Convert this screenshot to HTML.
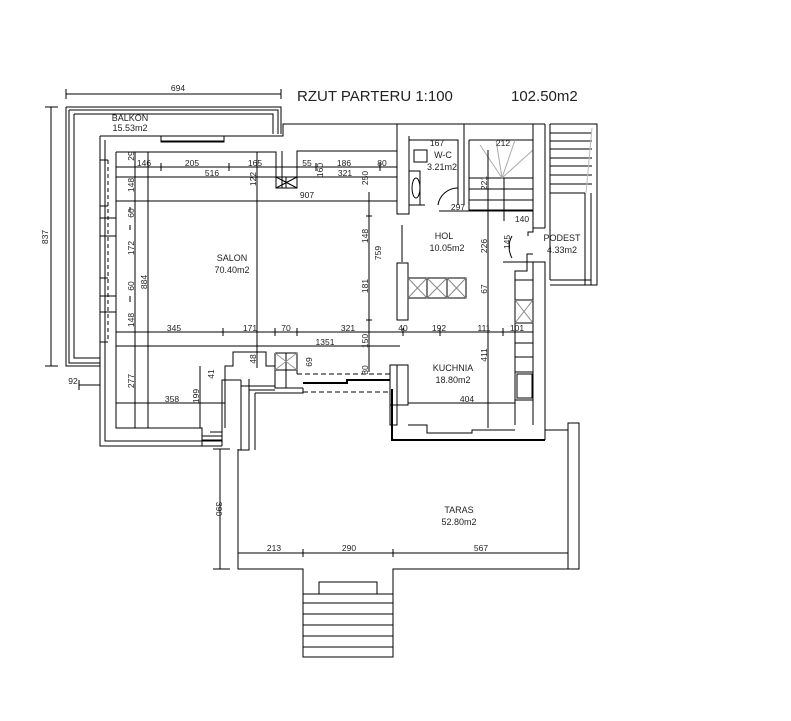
<!DOCTYPE html>
<html><head><meta charset="utf-8"><style>
html,body{margin:0;padding:0;background:#fff;}
svg{display:block;}
text{font-family:"Liberation Sans",sans-serif;fill:#222;}
.d{font-size:8.5px;}
.r{font-size:9px;}
</style></head><body>
<svg width="791" height="721" viewBox="0 0 791 721" xmlns="http://www.w3.org/2000/svg">
<g stroke="#000" stroke-width="1" fill="none">
<!-- top dim 694 -->
<line x1="66" y1="94" x2="281" y2="94"/>
<line x1="66" y1="89" x2="66" y2="99"/><line x1="281" y1="89" x2="281" y2="99"/>
<!-- left dim 837 -->
<line x1="51" y1="107" x2="51" y2="366"/>
<line x1="45" y1="107" x2="58" y2="107"/><line x1="45" y1="366" x2="58" y2="366"/>
<!-- balcony -->
<path d="M66 107 H281 V134 M66 107 V366 H100"/>
<path d="M69 110 H278 V134 M69 110 V363 H100"/>
<path d="M74 114 H273 V134 M74 114 V358 H100"/>
<!-- building outer left wall -->
<path d="M100 136 H283 V124 H545"/>
<path d="M100 136 V446 H222"/>
<path d="M105 140 V441 H222"/>
<path d="M100 160 H108 M100 206 H108 M100 218 H116 M100 236 H116 M100 278 H108 M100 296 H116 M100 312 H116 M100 342 H108"/>
<line x1="108" y1="160" x2="108" y2="342" stroke-dasharray="4,3"/>
<!-- window top -->
<path d="M161 136 V142 H224 V136 M161 141 H224"/>
<!-- salon inner -->
<path d="M116 152 H276 V188 H297 V151 H397 V214 H409 V136"/>
<path d="M116 152 V428 H202 V440 H222"/>
<path d="M276 177 H297 M276 188 L297 177 M276 177 L297 188"/>
<path d="M286 177 V188"/>
<!-- bottom-left area -->
<path d="M202 428 V446 M210 432 H222 M202 436 H222"/>
<path d="M225 428 V366 H233 V352 H266 V366 H275"/>
<path d="M275 353 H297 V374 M275 353 V388 H303 M275 370 H297 M286 353 V388"/>
<path d="M275 353 L297 370 M297 353 L275 370" stroke="#999"/>
<path d="M222 446 V380 H241 M241 380 V450 M249 379 V450 H238 M255 393 H303 V388 M255 393 V450"/>
<path d="M241 386 H275 M249 390 H275"/>
<line x1="297" y1="374" x2="390" y2="374" stroke-dasharray="5,3"/>
<path d="M303 383 H347 V380 H390" stroke-width="2"/>
<line x1="303" y1="392" x2="390" y2="392" stroke-dasharray="5,3"/>
<path d="M390 374 V365 H397 V425 H390 Z"/>
<path d="M392 389 V440 H545" stroke-width="2"/>
<!-- middle area / hol -->
<path d="M397 151 V124 M409 140 H458 V205 M409 140 V205 H425"/>
<path d="M414 150 H427 V162 H414 Z M409 171 H420 V205"/>
<ellipse cx="416" cy="188" rx="4" ry="10"/>
<path d="M458 188 A20 20 0 0 0 438 205"/>
<path d="M464 124 V205 M469 140 H533 M469 140 V210 H504"/>
<path d="M469 178 H533 M469 189 H533 M469 200 H533 M469 210 H533 M504 178 V221"/>
<path d="M502 178 L480 145 M502 178 L496 140 M502 178 L515 140 M502 178 L533 150" stroke="#aaa"/>
<path d="M533 124 V228 H545 M545 124 V228"/>
<path d="M533 228 V232 H528 V236"/>
<!-- podest -->
<path d="M550 124 H597 V130"/>
<path d="M550 133 H592 M550 141 H592 M550 149 H592 M550 158 H592 M550 166 H592 M550 175 H592 M550 184 H592 M550 193 H585"/>
<line x1="592" y1="128" x2="586" y2="193" stroke="#bbb"/>
<path d="M550 124 V280 M585 193 V280 M591 193 V280 M550 280 H591 M550 285 H597 V124 M585 280 V285 M591 280 V285"/>
<path d="M512 236 A22 22 0 0 0 512 258"/>
<!-- hol block & cabinets -->
<path d="M397 263 H408 V320 H397 Z"/>
<path d="M408 278 H466 V298 H408 M427 278 V298 M447 278 V298"/>
<path d="M408 278 L427 298 M427 278 L408 298 M427 278 L447 298 M447 278 L427 298 M447 278 L466 298 M466 278 L447 298" stroke="#888"/>
<path d="M503 262 H527 V271 H515 V425 M527 262 V254 H533 M533 262 V425 M527 262 H545 V440"/>
<path d="M515 280 H533 M515 300 H533 M515 323 H533 M515 343 H533 M515 357 H533 M515 372 H533 M515 400 H533"/>
<path d="M515 300 L533 323 M533 300 L515 323" stroke="#888"/>
<rect x="517" y="374" width="15" height="24"/>
<!-- kitchen -->
<path d="M397 365 H408 V405 H390"/>
<path d="M408 403 H515"/>
<path d="M408 425 H427 V433 H472 V430 H515"/>
<!-- terrace -->
<path d="M238 449 V569 H303 V657 H393 V569 H579 V423 H568 V433 M568 433 V569"/>
<path d="M545 430 H568"/>
<path d="M303 594 H393 M303 603 H393 M303 614 H393 M303 625 H393 M303 636 H393 M303 647 H393"/>
<path d="M303 594 H319 V582 H377 V594"/>
<!-- dims -->
<line x1="220" y1="449" x2="220" y2="569"/>
<line x1="213" y1="449" x2="230" y2="449"/><line x1="213" y1="569" x2="230" y2="569"/>
<line x1="238" y1="553" x2="568" y2="553"/>
<path d="M303 549 V557 M393 549 V557"/>
<line x1="116" y1="167" x2="397" y2="167"/>
<path d="M161 163 V171 M229 163 V171 M297 163 V171 M316 163 V171 M380 163 V171"/>
<line x1="116" y1="177" x2="397" y2="177"/>
<line x1="116" y1="201" x2="397" y2="201"/>
<line x1="116" y1="332" x2="533" y2="332"/>
<path d="M223 328 V336 M275 328 V336 M297 328 V336 M403 328 V336 M440 328 V336 M503 328 V336"/>
<line x1="116" y1="346" x2="400" y2="346"/>
<line x1="116" y1="403" x2="225" y2="403"/>
<line x1="135" y1="152" x2="135" y2="428"/>
<line x1="148" y1="152" x2="148" y2="428"/>
<path d="M130 207 V212 M130 225 V230 M130 296 V302"/>
<line x1="257" y1="152" x2="257" y2="368"/>
<line x1="369" y1="192" x2="369" y2="372"/>
<path d="M366 216 H372 M366 320 H372"/>
<line x1="488" y1="150" x2="488" y2="428"/>
<line x1="200" y1="366" x2="200" y2="428"/>
<line x1="282" y1="151" x2="282" y2="188"/>
<line x1="79" y1="385" x2="100" y2="385"/><line x1="79" y1="380" x2="79" y2="390"/>
<line x1="439" y1="211" x2="533" y2="211"/>
<line x1="402" y1="225" x2="402" y2="262"/>
</g>
<text x="297" y="101" style="font-size:15px">RZUT PARTERU 1:100</text>
<text x="511" y="101" style="font-size:15px">102.50m2</text>
<text x="178" y="91" class="d" text-anchor="middle">694</text>
<g class="r" text-anchor="middle">
<text x="130" y="121">BALKON</text><text x="130" y="131">15.53m2</text>
<text x="232" y="261">SALON</text><text x="232" y="273">70.40m2</text>
<text x="443" y="158">W-C</text><text x="442" y="170">3.21m2</text>
<text x="444" y="239">HOL</text><text x="447" y="251">10.05m2</text>
<text x="562" y="241">PODEST</text><text x="562" y="253">4.33m2</text>
<text x="453" y="371">KUCHNIA</text><text x="453" y="383">18.80m2</text>
<text x="459" y="513">TARAS</text><text x="459" y="525">52.80m2</text>
</g>
<g class="d" text-anchor="middle">
<text x="144" y="166">146</text><text x="192" y="166">205</text><text x="255" y="166">165</text>
<text x="307" y="166">55</text><text x="344" y="166">186</text><text x="382" y="166">80</text>
<text x="212" y="176">516</text><text x="345" y="176">321</text><text x="307" y="198">907</text>
<text x="174" y="331">345</text><text x="250" y="331">171</text><text x="286" y="331">70</text>
<text x="348" y="331">321</text><text x="403" y="331">40</text><text x="439" y="331">192</text>
<text x="484" y="331">111</text><text x="517" y="331">101</text>
<text x="325" y="345">1351</text><text x="172" y="402">358</text>
<text x="458" y="210">297</text><text x="522" y="222">140</text>
<text x="437" y="146">167</text><text x="503" y="146">212</text>
<text x="467" y="402">404</text>
<text x="274" y="551">213</text><text x="349" y="551">290</text><text x="481" y="551">567</text>
<text x="73" y="384">92</text>
</g>
<g class="d" text-anchor="middle">
<text transform="translate(48,237) rotate(-90)">837</text>
<text transform="translate(134,156) rotate(-90)">29</text>
<text transform="translate(134,185) rotate(-90)">148</text>
<text transform="translate(134,213) rotate(-90)">60</text>
<text transform="translate(134,248) rotate(-90)">172</text>
<text transform="translate(134,286) rotate(-90)">60</text>
<text transform="translate(134,320) rotate(-90)">148</text>
<text transform="translate(134,381) rotate(-90)">277</text>
<text transform="translate(147,282) rotate(-90)">884</text>
<text transform="translate(256,179) rotate(-90)">122</text>
<text transform="translate(323,170) rotate(-90)">160</text>
<text transform="translate(368,178) rotate(-90)">250</text>
<text transform="translate(368,236) rotate(-90)">148</text>
<text transform="translate(381,253) rotate(-90)">759</text>
<text transform="translate(368,286) rotate(-90)">181</text>
<text transform="translate(368,341) rotate(-90)">150</text>
<text transform="translate(368,370) rotate(-90)">30</text>
<text transform="translate(256,359) rotate(-90)">48</text>
<text transform="translate(312,362) rotate(-90)">69</text>
<text transform="translate(214,374) rotate(-90)">41</text>
<text transform="translate(199,396) rotate(-90)">199</text>
<text transform="translate(487,183) rotate(-90)">221</text>
<text transform="translate(487,246) rotate(-90)">226</text>
<text transform="translate(487,289) rotate(-90)">67</text>
<text transform="translate(487,355) rotate(-90)">411</text>
<text transform="translate(510,242) rotate(-90)">145</text>
<text transform="translate(216,509) rotate(90)">390</text>
</g>
</svg>
</body></html>
